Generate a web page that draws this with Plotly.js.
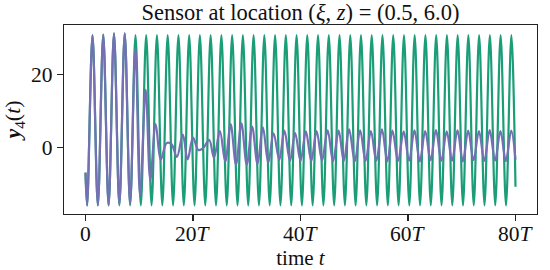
<!DOCTYPE html>
<html>
<head>
<meta charset="utf-8">
<script src="https://cdn.plot.ly/plotly-3.0.1.min.js"></script>
<style>html,body{margin:0;padding:0;background:#fff;}#chart{width:550px;height:270px;}</style>
</head>
<body>
<div id="chart"></div>
<script>
// Green series: extrema (troughs / peaks)
const greenT = [0,
  0.30, 1.30, 2.30, 3.30, 4.30, 5.30, 6.30, 7.30, 8.30, 9.30,
  10.29, 11.29, 12.29, 13.29, 14.29, 15.29, 16.29, 17.29, 18.29, 19.29,
  20.28, 21.28, 22.28, 23.28, 24.28, 25.28, 26.28, 27.28, 28.28, 29.28,
  30.27, 31.27, 32.27, 33.27, 34.27, 35.27, 36.27, 37.27, 38.27, 39.27,
  40.26, 41.26, 42.26, 43.26, 44.26, 45.26, 46.26, 47.26, 48.26, 49.26,
  50.25, 51.25, 52.25, 53.25, 54.25, 55.25, 56.25, 57.25, 58.25, 59.25,
  60.24, 61.24, 62.24, 63.24, 64.24, 65.24, 66.24, 67.24, 68.24, 69.24,
  70.23, 71.23, 72.23, 73.23, 74.23, 75.23, 76.23, 77.23, 78.23, 79.23,
  80.0];
const greenV = [-7.0,
  -16.0, 30.7, -16.0, 30.9, -16.0, 31.2, -16.0, 31.2, -16.0, 30.7,
  -16.0, 30.7, -16.0, 30.7, -16.0, 30.7, -16.0, 30.7, -16.0, 30.7,
  -16.0, 30.7, -16.0, 30.7, -16.0, 30.7, -16.0, 30.7, -16.0, 30.7,
  -16.0, 30.7, -16.0, 30.7, -16.0, 30.7, -16.0, 30.7, -16.0, 30.7,
  -16.0, 30.7, -16.0, 30.7, -16.0, 30.7, -16.0, 30.7, -16.0, 30.7,
  -16.0, 30.7, -16.0, 30.7, -16.0, 30.7, -16.0, 30.7, -16.0, 30.7,
  -16.0, 30.7, -16.0, 30.7, -16.0, 30.7, -16.0, 30.7, -16.0, 30.7,
  -16.0, 30.7, -16.0, 30.7, -16.0, 30.7, -16.0, 30.7, -16.0, 30.7,
  -10.9];

// Purple series: extrema
const purpleT = [0,
  0.30, 1.30, 2.30, 3.30, 4.30, 5.30, 6.30, 7.30, 8.30, 9.28,
  10.15, 11.2, 12.05, 13.05, 14.0, 15.1, 16.0, 17.0, 18.1, 19.0,
  20.0, 21.0, 21.9, 23.0, 23.9, 25.0, 26.0, 27.0, 28.0, 29.0,
  30.0, 31.0, 32.0, 33.0, 34.0, 35.0, 36.05, 37.0, 38.05, 39.0,
  40.0, 41.0, 42.0, 43.0, 44.0, 45.05, 46.05, 47.1, 48.05, 49.05,
  50.1, 51.1, 52.1, 53.1, 54.1, 55.15, 56.15, 57.1, 58.15, 59.2,
  60.2, 61.2, 62.2, 63.2, 64.2, 65.2, 66.2, 67.2, 68.2, 69.2,
  70.2, 71.2, 72.2, 73.2, 74.2, 75.2, 76.2, 77.2, 78.2, 79.2,
  80.0];
const purpleV = [-7.0,
  -16.0, 30.7, -16.0, 30.9, -16.0, 31.2, -15.7, 31.2, -15.5, 27.1,
  -13.3, 15.7, -9.0, 6.3, -3.5, 1.1, 0.8, -2.7, 3.4, -3.4,
  2.6, -0.8, -0.3, 2.0, -2.9, 4.4, -4.0, 6.3, -4.8, 6.5,
  -4.8, 5.6, -4.6, 5.4, -4.3, 3.8, -3.5, 4.5, -3.8, 3.9,
  -3.8, 4.3, -3.8, 4.4, -3.7, 4.6, -3.9, 4.5, -3.8, 4.9,
  -3.9, 4.6, -3.8, 4.4, -3.7, 4.9, -3.9, 4.5, -3.8, 4.3,
  -3.7, 4.6, -3.9, 4.4, -3.6, 4.7, -3.8, 4.3, -3.7, 4.6,
  -3.9, 4.5, -3.6, 4.4, -3.8, 4.7, -3.7, 4.4, -3.8, 4.5,
  -3.4];

const xTickVals = [0, 20, 40, 60, 80];
const xTickText = ['0', '20<i>T</i>', '40<i>T</i>', '60<i>T</i>', '80<i>T</i>'];
const yTickVals = [0, 20];
const yTickText = ['0', '20'];

const FONT = 'Liberation Serif, DejaVu Serif, serif';

const traces = [
  {x: greenT, y: greenV, type: 'scatter', mode: 'lines',
   line: {color: '#1b9e77', width: 2.2, shape: 'spline', smoothing: 1}, hoverinfo: 'skip'},
  {x: purpleT, y: purpleV, type: 'scatter', mode: 'lines',
   line: {color: '#7570b3', width: 2.2, shape: 'spline', smoothing: 1}, hoverinfo: 'skip'}
];

// x tick labels placed at the axis' own tick positions (data coordinates)
const xTickAnnotations = xTickVals.map((v, i) => ({
  x: v, xref: 'x', y: 0, yref: 'paper', yshift: -20,
  xanchor: 'center', yanchor: 'middle', showarrow: false,
  text: xTickText[i], font: {family: FONT, size: 21.5, color: '#111'}
}));

const layout = {
  width: 550, height: 270,
  margin: {l: 64, r: 13, t: 25, b: 56, pad: 0},
  paper_bgcolor: '#fff', plot_bgcolor: '#fff',
  showlegend: false,
  font: {family: FONT, size: 21, color: '#111'},
  title: {text: 'Sensor at location (<i>ξ</i>, <i>z</i>) = (0.5, 6.0)',
          font: {family: FONT, size: 22.5, color: '#111'},
          x: 0.5, xref: 'paper', xanchor: 'center', y: 1, yref: 'container', yanchor: 'top',
          pad: {t: 4}},
  xaxis: {range: [-4, 84], showgrid: false, zeroline: false,
          showline: true, linecolor: '#222', linewidth: 1.2, mirror: true,
          ticks: 'outside', ticklen: 6, tickwidth: 1.2, tickcolor: '#222',
          tickvals: xTickVals, showticklabels: false,
          title: {text: 'time <i>t</i>', font: {family: FONT, size: 21, color: '#111'}, standoff: 30}},
  yaxis: {range: [-18.35, 33.5], showgrid: false, zeroline: false,
          showline: true, linecolor: '#222', linewidth: 1.2, mirror: true,
          ticks: 'outside', ticklen: 6, tickwidth: 1.2, tickcolor: '#222',
          tickvals: yTickVals, ticktext: yTickText,
          tickfont: {family: FONT, size: 21.5, color: '#111'},
          title: {text: '<b><i>y</i></b><sub>4</sub>(<i>t</i>)', font: {family: FONT, size: 22, color: '#111'}, standoff: 5}},
  annotations: xTickAnnotations
};

Plotly.newPlot('chart', traces, layout, {staticPlot: true, displayModeBar: false});
</script>
</body>
</html>
